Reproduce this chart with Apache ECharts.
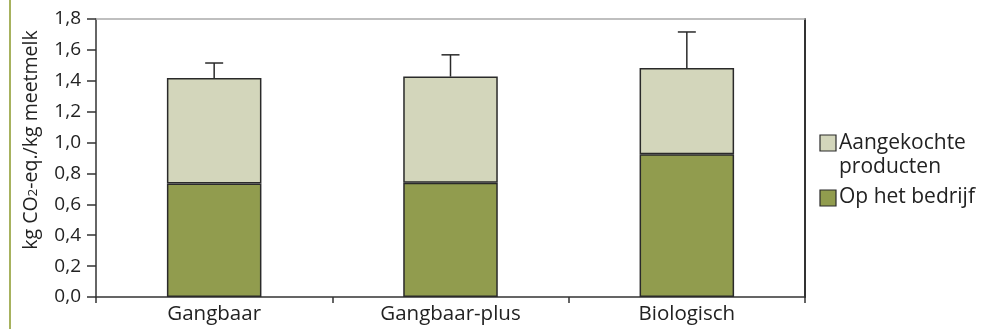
<!DOCTYPE html>
<html><head><meta charset="utf-8">
<script src="https://cdn.jsdelivr.net/npm/echarts@6/dist/echarts.min.js"></script>
<style>html,body{margin:0;padding:0;background:#fff}#c{width:981px;height:331px}</style>
</head><body><div id="c"></div>
<script>
const categories = ["Gangbaar", "Gangbaar-plus", "Biologisch"];
const opHetBedrijf = [0.735, 0.74, 0.925];
const aangekocht = [0.683, 0.687, 0.558];
const errorTop = [1.515, 1.568, 1.716];
const yTicks = [0, 0.2, 0.4, 0.6, 0.8, 1.0, 1.2, 1.4, 1.6, 1.8];
const legendNames = ["Aangekochte\nproducten", "Op het bedrijf"];
const yTitle = ["kg CO", "2", "-eq./kg meetmelk"];

const FONT = "Open Sans";
const TXT = '#222';
const COL_TOP = '#d3d6bb', COL_BOT = '#919c4e', EDGE = '#2a2a2a';
const chart = echarts.init(document.getElementById('c'), null, {renderer: 'canvas'});
const totals = opHetBedrijf.map((v, i) => v + aangekocht[i]);

chart.setOption({
  animation: false,
  textStyle: {fontFamily: FONT},
  grid: {left: 96, right: 176, top: 19, bottom: 34},
  legend: {show: false, data: legendNames},
  xAxis: [{
    type: 'category', data: categories,
    axisLine: {lineStyle: {color: '#333', width: 1.5}},
    axisTick: {show: true, alignWithLabel: false, length: 6, lineStyle: {color: '#333', width: 1.5}},
    axisLabel: {fontSize: 20.5, color: TXT, margin: 7, fontFamily: FONT}
  }, {
    type: 'category', data: categories, position: 'top',
    axisLine: {show: true, onZero: false, lineStyle: {color: '#aaa', width: 1.5}},
    axisTick: {show: false}, axisLabel: {show: false}
  }],
  yAxis: [{
    type: 'value', min: 0, max: 1.8, interval: 0.2,
    axisLine: {show: true, onZero: false, lineStyle: {color: '#333', width: 1.5}},
    axisTick: {show: true, length: 9, lineStyle: {color: '#333', width: 1.5}},
    splitLine: {show: false},
    axisLabel: {fontSize: 19, color: TXT, margin: 15, fontFamily: FONT, padding: [3, 0, 0, 0],
      formatter: v => v.toFixed(1).replace('.', ',')}
  }, {
    type: 'value', min: 0, max: 1.8, interval: 0.2, position: 'right',
    axisLine: {show: true, onZero: false, lineStyle: {color: '#333', width: 2}},
    axisTick: {show: false}, axisLabel: {show: false}, splitLine: {show: false}
  }],
  series: [{
    name: legendNames[1], type: 'bar', stack: 't', data: opHetBedrijf, barWidth: '40%',
    itemStyle: {color: COL_BOT, borderColor: EDGE, borderWidth: 1.5}
  }, {
    name: legendNames[0], type: 'bar', stack: 't', data: aangekocht, barWidth: '40%',
    itemStyle: {color: COL_TOP, borderColor: EDGE, borderWidth: 1.5}
  }, {
    type: 'custom', silent: true, z: 5,
    data: errorTop.map((e, i) => [i, totals[i], e]),
    renderItem: (params, api) => {
      const p0 = api.coord([api.value(0), api.value(1)]);
      const p1 = api.coord([api.value(0), api.value(2)]);
      const style = {stroke: EDGE, lineWidth: 1.5};
      return {type: 'group', children: [
        {type: 'line', shape: {x1: p0[0], y1: p0[1], x2: p1[0], y2: p1[1]}, style},
        {type: 'line', shape: {x1: p1[0] - 9, y1: p1[1], x2: p1[0] + 9, y2: p1[1]}, style}
      ]};
    }
  }],
  graphic: [
    {type: 'rect', shape: {x: 9, y: 0, width: 2, height: 329}, style: {fill: '#a7b25e'}},
    {type: 'text', x: 31, y: 140, rotation: Math.PI / 2,
      style: {text: '{a|' + yTitle[0] + '}{s|' + yTitle[1] + '}{a|' + yTitle[2] + '}',
        align: 'center', verticalAlign: 'middle',
        rich: {a: {fontSize: 19.5, fill: TXT, fontFamily: FONT}, s: {fontSize: 13.5, fill: TXT, fontFamily: FONT, padding: [4, 0, 0, 0]}}}},
    {type: 'rect', shape: {x: 820, y: 135, width: 16, height: 16}, style: {fill: COL_TOP, stroke: EDGE, lineWidth: 1.2}},
    {type: 'text', x: 839, y: 131, style: {text: legendNames[0], fontSize: 21, lineHeight: 24, fill: TXT, fontFamily: FONT}},
    {type: 'rect', shape: {x: 820, y: 190, width: 16, height: 16}, style: {fill: COL_BOT, stroke: EDGE, lineWidth: 1.2}},
    {type: 'text', x: 839, y: 185, style: {text: legendNames[1], fontSize: 21, lineHeight: 24, fill: TXT, fontFamily: FONT}}
  ]
});
</script></body></html>
